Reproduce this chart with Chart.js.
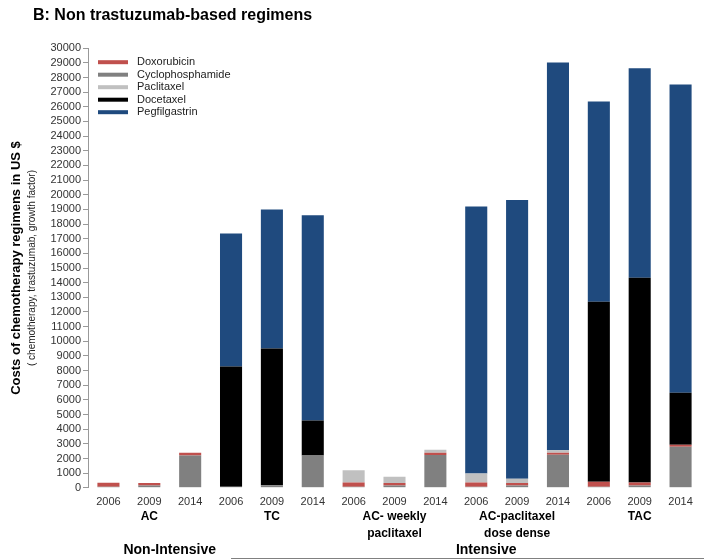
<!DOCTYPE html>
<html>
<head>
<meta charset="utf-8">
<script src="https://cdn.jsdelivr.net/npm/chart.js@4.4.0/dist/chart.umd.min.js"></script>
<style>
  html, body { margin: 0; padding: 0; background: #fff; }
  #wrap { width: 704px; height: 559px; }
</style>
</head>
<body>
<div id="wrap"><canvas id="chart"></canvas></div>
<script>
// Non trastuzumab-based regimens: cost per drug, stacked, per regimen and year

const years = ['2006', '2009', '2014', '2006', '2009', '2014', '2006', '2009', '2014',
               '2006', '2009', '2014', '2006', '2009', '2014'];
const regimens = ['AC', 'TC', ['AC- weekly', 'paclitaxel'], ['AC-paclitaxel', 'dose dense'], 'TAC'];

// stack order, bottom to top
const cyclophosphamide = [80, 150, 2200, 80, 180, 2200, 80, 150, 2230, 80, 150, 2250, 80, 150, 2800];
const doxorubicin      = [270, 180, 190, 0, 0, 0, 280, 180, 160, 280, 180, 150, 330, 220, 130];
const paclitaxel       = [0, 0, 0, 0, 0, 0, 840, 420, 200, 620, 280, 170, 0, 0, 0];
const docetaxel        = [0, 0, 0, 8190, 9320, 2390, 0, 0, 0, 0, 0, 0, 12290, 13970, 3550];
const pegfilgastrin    = [0, 0, 0, 9090, 9500, 14010, 0, 0, 0, 18220, 19030, 26450, 13660, 14300, 21040];

const legendOrder = ['Doxorubicin', 'Cyclophosphamide', 'Paclitaxel', 'Docetaxel', 'Pegfilgastrin'];

const FONT = '"Liberation Sans", Arial, sans-serif';

// legend drawn inside the plot, top left
const insideLegend = {
  id: 'insideLegend',
  afterDatasetsDraw(chart) {
    const { ctx, chartArea } = chart;
    ctx.save();
    ctx.font = '11px ' + FONT;
    ctx.textBaseline = 'middle';
    ctx.textAlign = 'left';
    legendOrder.forEach((name, i) => {
      const ds = chart.data.datasets.find(d => d.label === name);
      const y = chartArea.top + 14 + i * 12.5;
      ctx.fillStyle = ds.backgroundColor;
      ctx.fillRect(chartArea.left + 10, y - 2, 30, 4);
      ctx.fillStyle = '#222';
      ctx.fillText(name, chartArea.left + 49, y);
    });
    ctx.restore();
  }
};

// regimen names, intensity row and y axis title
const extraLabels = {
  id: 'extraLabels',
  afterDraw(chart) {
    const { ctx, chartArea, scales: { x } } = chart;
    ctx.save();
    ctx.fillStyle = '#000';
    ctx.textAlign = 'center';
    ctx.textBaseline = 'middle';

    ctx.font = 'bold 12px ' + FONT;
    regimens.forEach((r, i) => {
      const cx = x.getPixelForValue(i * 3 + 1);
      const lines = Array.isArray(r) ? r : [r];
      lines.forEach((t, j) => ctx.fillText(t, cx, chartArea.bottom + 29 + j * 17));
    });

    ctx.font = 'bold 14px ' + FONT;
    const yRow = chartArea.bottom + 62;
    ctx.fillText('Non-Intensive', (x.getPixelForValue(1) + x.getPixelForValue(2)) / 2, yRow);
    ctx.fillText('Intensive', x.getPixelForValue(9) + 10, yRow);
    ctx.strokeStyle = '#808080';
    ctx.lineWidth = 1.5;
    ctx.beginPath();
    ctx.moveTo(x.getPixelForValue(3), yRow + 9);
    ctx.lineTo(chart.width, yRow + 9);
    ctx.stroke();

    const midY = (chartArea.top + chartArea.bottom) / 2;
    ctx.translate(16, midY);
    ctx.rotate(-Math.PI / 2);
    ctx.font = 'bold 13px ' + FONT;
    ctx.fillText('Costs of chemotherapy regimens in US $', 0, 0);
    ctx.font = '10px ' + FONT;
    ctx.fillStyle = '#222';
    ctx.fillText('( chemotherapy, trastuzumab, growth factor)', 0, 16);
    ctx.restore();
  }
};

new Chart(document.getElementById('chart'), {
  type: 'bar',
  data: {
    labels: years,
    datasets: [
      { label: 'Cyclophosphamide', data: cyclophosphamide, backgroundColor: '#808080' },
      { label: 'Doxorubicin', data: doxorubicin, backgroundColor: '#c0504d' },
      { label: 'Paclitaxel', data: paclitaxel, backgroundColor: '#c0c0c0' },
      { label: 'Docetaxel', data: docetaxel, backgroundColor: '#000000' },
      { label: 'Pegfilgastrin', data: pegfilgastrin, backgroundColor: '#1f4a7e' }
    ]
  },
  options: {
    responsive: true,
    maintainAspectRatio: false,
    animation: false,
    datasets: { bar: { barPercentage: 0.54, categoryPercentage: 1 } },
    layout: { padding: { left: 33, right: 3, bottom: 50, top: 0 } },
    plugins: {
      legend: { display: false },
      tooltip: { enabled: false },
      title: {
        display: true,
        text: 'B: Non trastuzumab-based regimens',
        align: 'start',
        color: '#000',
        font: { family: FONT, size: 16, weight: 'bold' },
        padding: { top: 6, bottom: 23 }
      }
    },
    scales: {
      x: {
        stacked: true,
        grid: { display: false },
        border: { display: false },
        ticks: { color: '#333', font: { family: FONT, size: 11 }, padding: 0, maxRotation: 0, autoSkip: false }
      },
      y: {
        stacked: true,
        min: 0,
        max: 30000,
        afterFit(scale) { scale.width = 55; },
        grid: { display: true, drawOnChartArea: false, tickLength: 5, color: '#999' },
        border: { display: true, color: '#999' },
        ticks: {
          stepSize: 1000,
          autoSkip: false,
          color: '#333',
          font: { family: FONT, size: 11 },
          padding: 2,
          callback: (v) => String(v)
        }
      }
    }
  },
  plugins: [insideLegend, extraLabels]
});
</script>
</body>
</html>
